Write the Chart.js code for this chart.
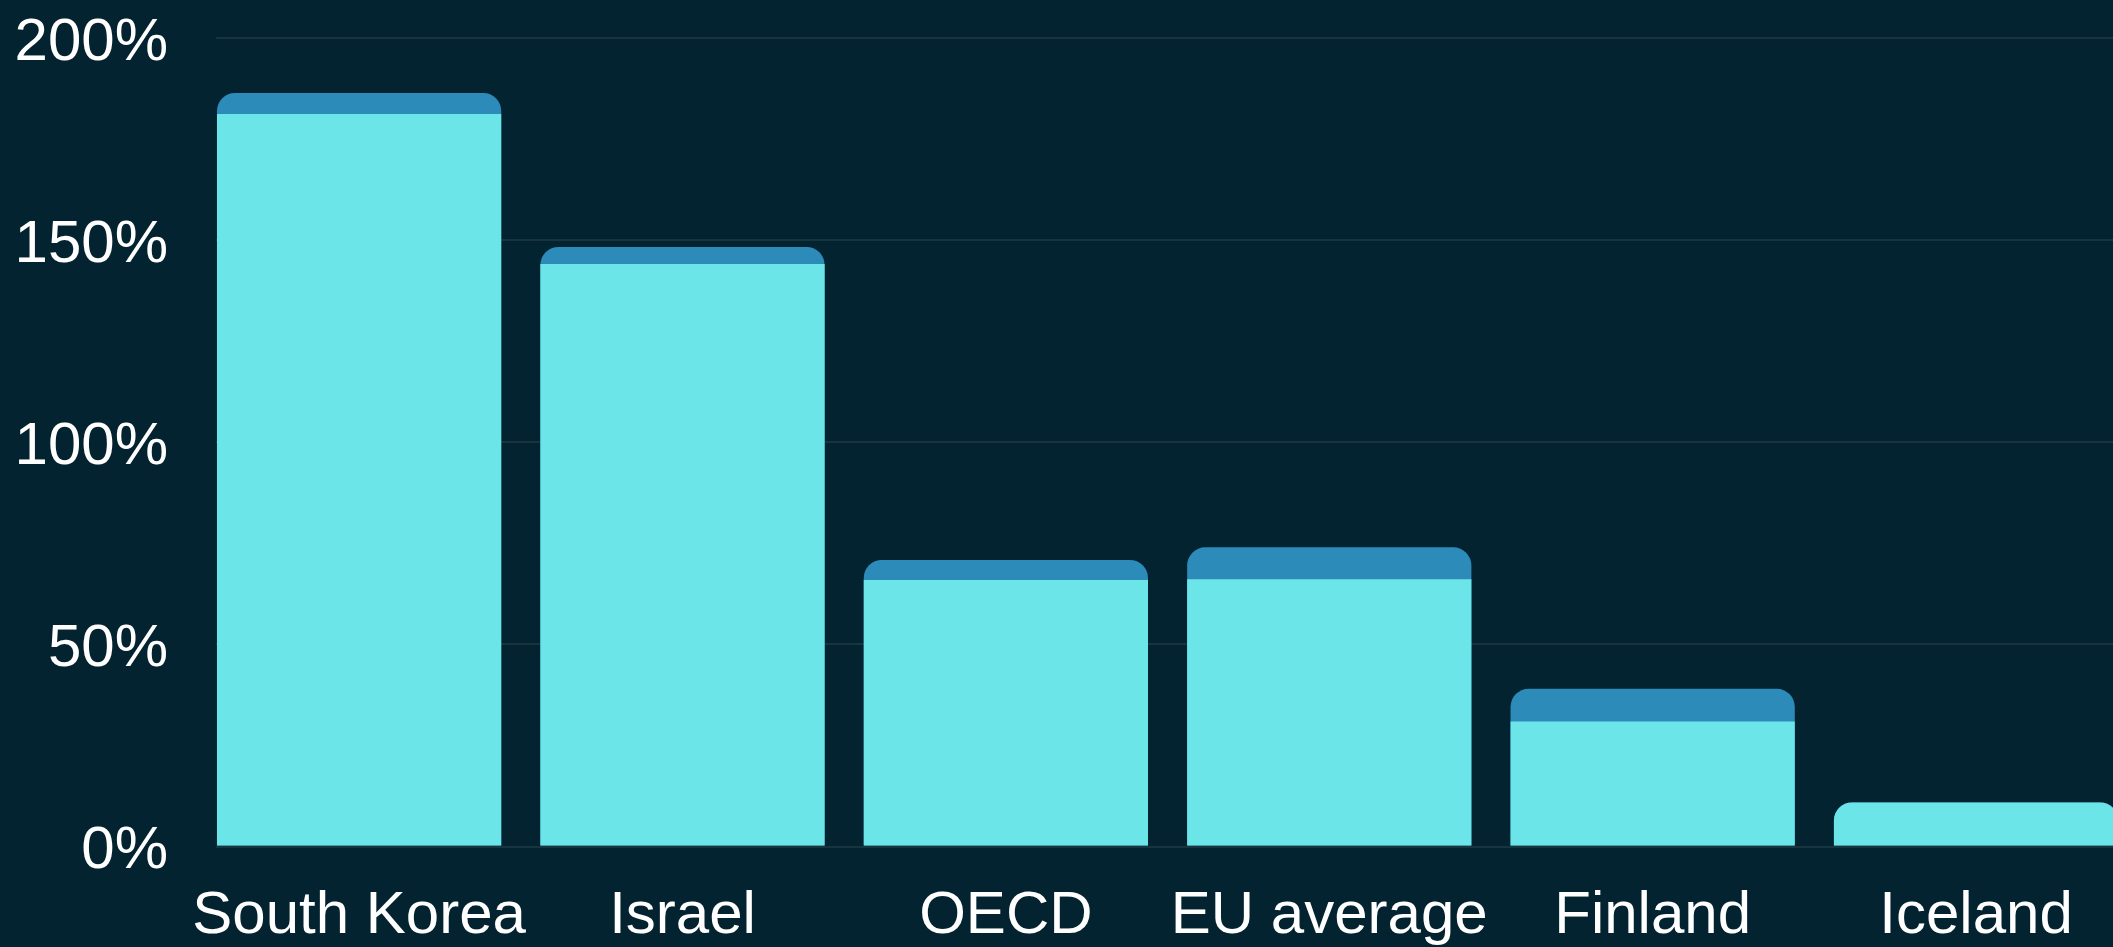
<!DOCTYPE html>
<html>
<head>
<meta charset="utf-8">
<script src="https://cdn.jsdelivr.net/npm/chart.js@4/dist/chart.umd.min.js"></script>
<style>
  html, body { margin: 0; padding: 0; background: #02232f; }
  #wrap { width: 2113px; height: 947px; position: relative; }
</style>
</head>
<body>
<div id="wrap"><canvas id="shareChart"></canvas></div>
<script>
// values (percent)
const categories = ['South Korea', 'Israel', 'OECD', 'EU average', 'Finland', 'Iceland'];
const baseValues = [181.2, 144.1, 65.9, 66.1, 30.9, 10.9];
const totalValues = [186.4, 148.3, 70.9, 74.0, 39.0, 10.9];
const yTicks = [0, 50, 100, 150, 200];

const lightColor = '#6ce5e8';
const darkColor = '#2d8bba';
const gridColor = '#17343f';
const textColor = '#ffffff';
const labelFont = { family: "'Liberation Sans', Arial, sans-serif", size: 60 };

const ctx = document.getElementById('shareChart').getContext('2d');
new Chart(ctx, {
  type: 'bar',
  data: {
    datasets: [
      {
        // drawn last, so it sits over the lower part of the dark bar
        label: 'base',
        data: baseValues.map((v, i) => ({ x: i, y: v })),
        backgroundColor: lightColor,
        borderWidth: 0,
        borderRadius: c => totalValues[c.dataIndex] <= baseValues[c.dataIndex] ? 18 : 0,
        borderSkipped: 'start'
      },
      {
        label: 'total',
        data: totalValues.map((v, i) => ({ x: i, y: v })),
        backgroundColor: darkColor,
        borderWidth: 0,
        borderRadius: 18,
        borderSkipped: 'start'
      }
    ]
  },
  options: {
    responsive: true,
    maintainAspectRatio: false,
    animation: false,
    grouped: false,
    categoryPercentage: 1,
    barPercentage: 0.879,
    layout: { autoPadding: false, padding: { top: 38, left: 0, right: 0, bottom: 0 } },
    plugins: {
      legend: { display: false },
      tooltip: { enabled: false }
    },
    scales: {
      x: {
        type: 'linear',
        offset: false,
        min: -0.4425,
        max: 5.4235,
        afterBuildTicks: s => { s.ticks = categories.map((c, i) => ({ value: i })); },
        afterFit: s => { s.height = 100.5; },
        grid: { display: true, drawOnChartArea: false, drawTicks: true, tickLength: 34, tickColor: 'transparent' },
        border: { display: false },
        ticks: {
          autoSkip: false,
          maxRotation: 0,
          minRotation: 0,
          padding: 0,
          color: textColor,
          font: labelFont,
          callback: v => categories[v]
        }
      },
      y: {
        min: 0,
        max: 200,
        afterBuildTicks: s => { s.ticks = yTicks.map(v => ({ value: v })); },
        afterFit: s => { s.width = 216; },
        grid: { color: gridColor, lineWidth: 2, drawTicks: true, tickLength: 48, tickColor: 'transparent' },
        border: { display: false },
        ticks: {
          padding: 0,
          labelOffset: 5,
          color: textColor,
          font: labelFont,
          callback: v => v + '%'
        }
      }
    }
  }
});
</script>
</body>
</html>
